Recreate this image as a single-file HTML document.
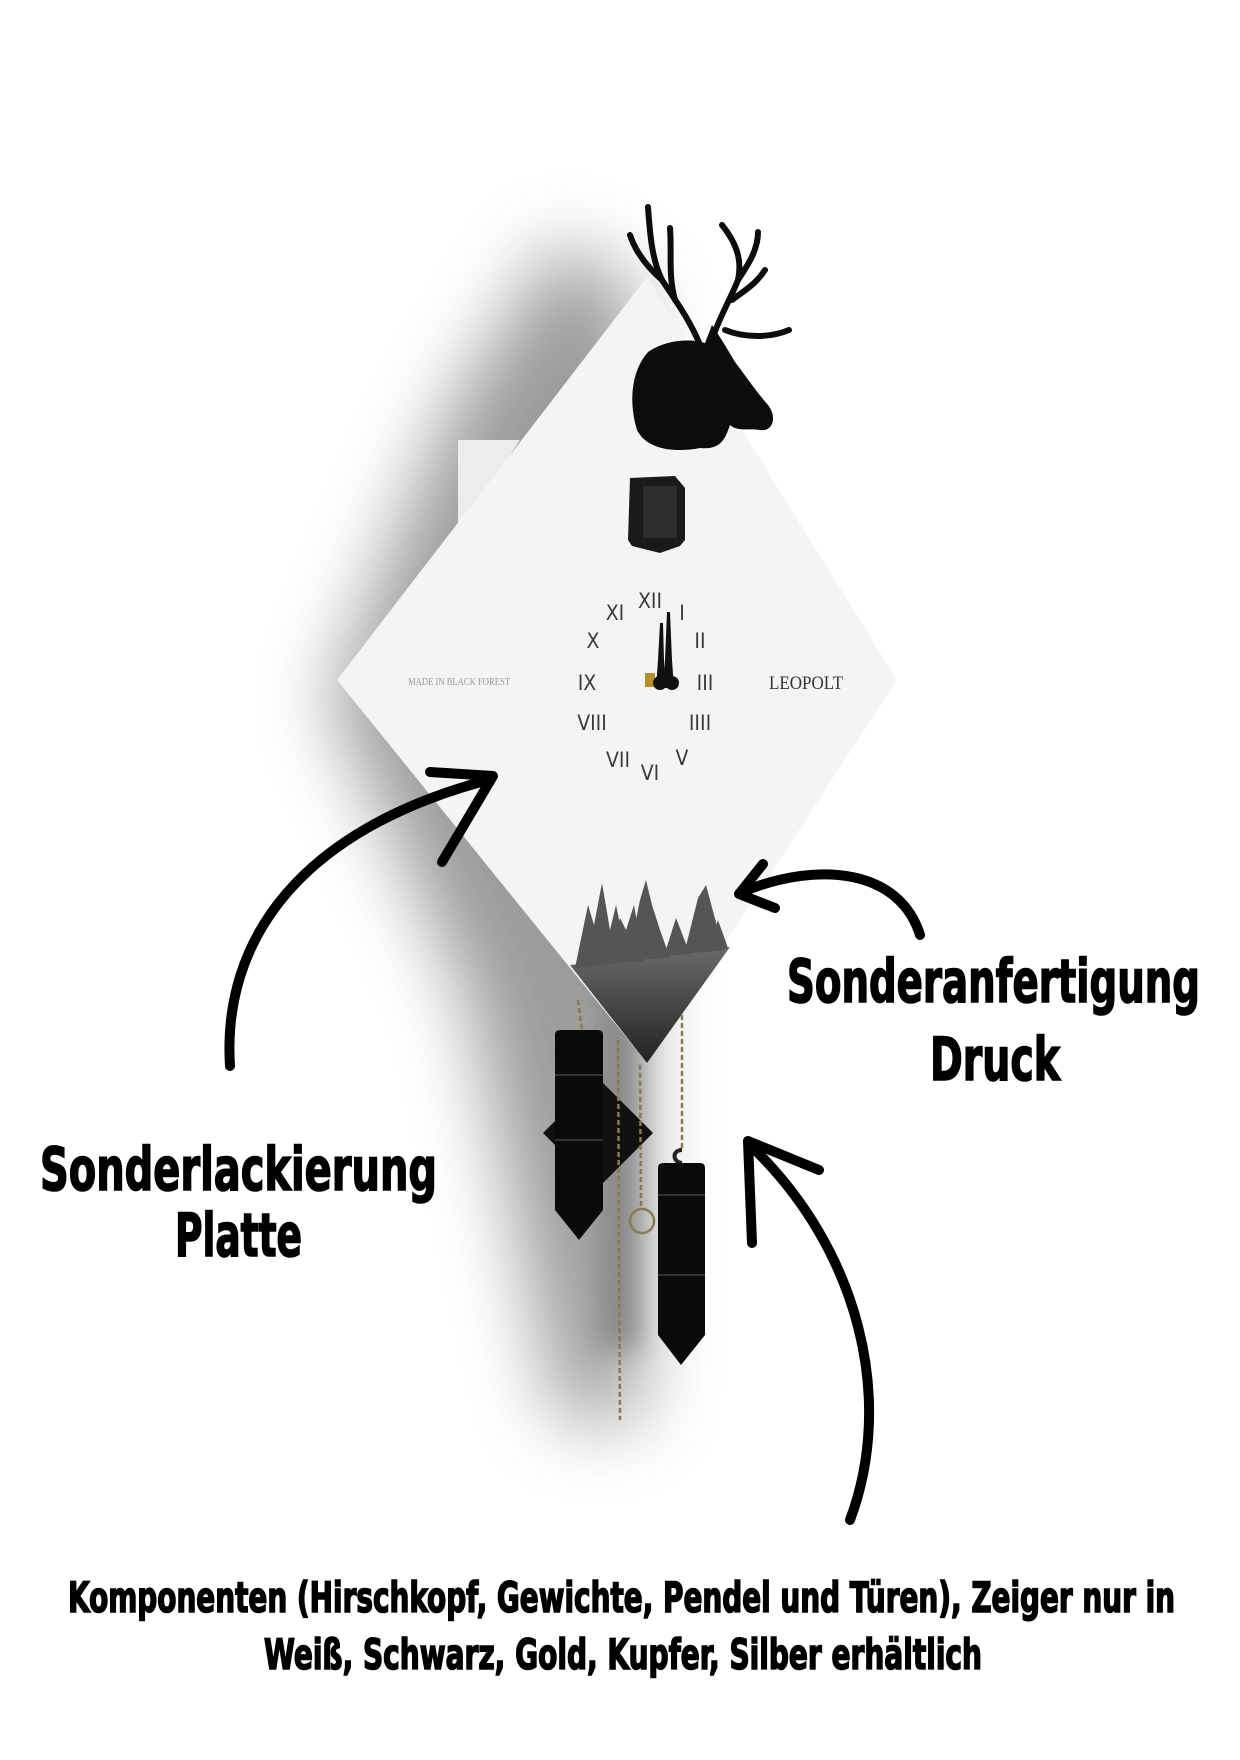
<!DOCTYPE html>
<html><head><meta charset="utf-8"><style>
html,body{margin:0;padding:0;background:#fff;}
svg{display:block;}
.t{font-family:"DejaVu Sans Condensed","DejaVu Sans","Liberation Sans",sans-serif;font-weight:bold;fill:#000;stroke:#000;stroke-width:1.6;}
.n{font-family:"DejaVu Sans Condensed","Liberation Sans",sans-serif;fill:#3a3a3a;font-size:21px;text-anchor:middle;}
</style></head><body>
<svg width="1240" height="1760" viewBox="0 0 1240 1760" xmlns="http://www.w3.org/2000/svg">
<defs>
<filter id="blur" x="-50%" y="-50%" width="200%" height="200%"><feGaussianBlur stdDeviation="38"/></filter>
<filter id="blur2" x="-50%" y="-50%" width="200%" height="200%"><feGaussianBlur stdDeviation="14"/></filter>
<linearGradient id="dk" x1="0" y1="0" x2="0" y2="1"><stop offset="0" stop-color="#6a6a6a"/><stop offset="1" stop-color="#222"/></linearGradient>
</defs>
<!-- shadow -->
<polygon points="560,240 450,410 330,700 470,1000 560,1420 640,1420 640,300" fill="#8a8a8a" filter="url(#blur)" opacity="0.85"/>
<polygon points="540,700 600,1000 600,1350 640,1350 640,900" fill="#666" filter="url(#blur2)" opacity="0.6"/>
<!-- back box -->
<polygon points="458,440 520,440 440,560 458,560" fill="#ececec"/>
<!-- diamond -->
<polygon points="647,277 897,680 647,1063 337,680" fill="#f4f4f2"/>
<!-- dark print -->
<polygon points="570,965 730,947 647,1063" fill="url(#dk)"/>
<g fill="#555">
<polygon points="575,968 588,905 594,925 602,883 610,930 616,905 628,962"/>
<polygon points="608,962 620,918 626,930 634,905 644,962"/>
<polygon points="628,960 640,900 646,880 652,905 660,930 670,958"/>
<polygon points="664,956 676,918 690,954"/>
<polygon points="684,954 698,898 706,885 714,915 724,950"/>
<polygon points="708,952 718,920 728,948"/>
</g>
<!-- clock numerals -->
<text class="n" x="650" y="608">XII</text>
<text class="n" x="682" y="620">I</text>
<text class="n" x="700" y="648">II</text>
<text class="n" x="705" y="690">III</text>
<text class="n" x="700" y="730">IIII</text>
<text class="n" x="682" y="765">V</text>
<text class="n" x="650" y="780">VI</text>
<text class="n" x="618" y="767">VII</text>
<text class="n" x="592" y="730">VIII</text>
<text class="n" x="587" y="690">IX</text>
<text class="n" x="593" y="648">X</text>
<text class="n" x="615" y="620">XI</text>
<!-- hands -->
<rect x="645" y="673" width="10" height="14" fill="#b8902a"/>
<path d="M667,612 L670,612 L672,660 L674,688 L664,688 L665,660Z M660,623 L663,623 L664,660 L666,688 L656,688 L658,660Z" fill="#111"/>
<circle cx="660" cy="683" r="7" fill="#111"/><circle cx="672" cy="683" r="7" fill="#111"/>
<text x="459" y="685" font-family="Liberation Serif,serif" font-size="10" fill="#999" text-anchor="middle" textLength="102" lengthAdjust="spacingAndGlyphs">MADE IN BLACK FOREST</text>
<text x="806" y="689" font-family="Liberation Serif,serif" font-size="19" fill="#333" text-anchor="middle" textLength="74" lengthAdjust="spacingAndGlyphs">LEOPOLT</text>
<!-- door -->
<path d="M630,478 L675,476 L685,488 L685,540 L680,546 L660,553 L632,546 L628,540Z" fill="#1a1a1a"/>
<rect x="643" y="486" width="34" height="52" fill="#2e2e2e"/>
<!-- deer -->
<g fill="#0c0c0c">
<path d="M648,352 C665,340 690,338 705,343 L712,325 C722,340 728,350 735,362 C745,375 755,390 768,405 C778,418 772,432 760,430 C748,428 738,432 730,425 C725,440 720,450 700,448 C680,452 648,452 637,430 C628,400 632,370 648,352Z"/>
</g>
<g stroke="#0c0c0c" stroke-width="6" fill="none" stroke-linecap="round">
<path d="M700,345 C690,320 675,300 662,280 C652,260 650,235 648,207"/>
<path d="M662,280 C645,265 635,250 630,235"/>
<path d="M675,300 C668,275 672,255 670,228"/>
<path d="M712,340 C718,320 730,300 738,280 C742,262 738,245 722,225"/>
<path d="M738,280 C748,265 758,250 758,232"/>
<path d="M725,330 C745,338 770,338 789,330"/>
<path d="M732,300 C745,290 755,285 765,270"/>
</g>
<!-- pendulum -->
<polygon points="598,1078 653,1133 598,1188 543,1133" fill="#111"/>
<rect x="590" y="1040" width="12" height="130" fill="#222"/>
<!-- chains -->
<g stroke="#8a7a50" stroke-width="2.5" fill="none" stroke-dasharray="5,3">
<line x1="618" y1="1040" x2="620" y2="1420"/>
<line x1="640" y1="1065" x2="641" y2="1208"/>
<line x1="682" y1="1015" x2="682" y2="1150"/>
<line x1="578" y1="1000" x2="582" y2="1030"/>
</g>
<circle cx="642" cy="1221" r="12" stroke="#8a7a50" stroke-width="2.5" fill="none"/>
<path d="M682,1150 C672,1150 672,1162 682,1163" stroke="#222" stroke-width="4" fill="none"/>
<!-- weights -->
<path d="M555,1035 Q555,1030 560,1030 L598,1030 Q603,1030 603,1035 L603,1210 L579,1240 L555,1210Z" fill="#0a0a0a"/>
<path d="M658,1168 Q658,1163 663,1163 L700,1163 Q705,1163 705,1168 L705,1335 L681,1365 L658,1335Z" fill="#0a0a0a"/>
<g stroke="#333" stroke-width="2"><line x1="555" y1="1075" x2="603" y2="1075"/><line x1="555" y1="1140" x2="603" y2="1140"/><line x1="658" y1="1195" x2="705" y2="1195"/><line x1="658" y1="1275" x2="705" y2="1275"/></g>
<!-- arrows -->
<g stroke="#000" stroke-width="10" fill="none" stroke-linecap="round" stroke-linejoin="round">
<path d="M230,1066 C222,940 300,830 488,780"/>
<path d="M430,772 L493,776 L442,862"/>
<path d="M920,935 C900,870 820,860 742,892"/>
<path d="M763,864 L739,894 L775,908"/>
<path d="M850,1520 C895,1400 860,1250 750,1145"/>
<path d="M819,1170 L748,1141 L752,1243"/>
</g>
<!-- labels -->
<text class="t" x="40" y="1190" font-size="60" textLength="397" lengthAdjust="spacingAndGlyphs">Sonderlackierung</text>
<text class="t" x="175" y="1256" font-size="60" textLength="127" lengthAdjust="spacingAndGlyphs">Platte</text>
<text class="t" x="787" y="1002" font-size="60" textLength="413" lengthAdjust="spacingAndGlyphs">Sonderanfertigung</text>
<text class="t" x="930" y="1080" font-size="60" textLength="130" lengthAdjust="spacingAndGlyphs">Druck</text>
<text class="t" x="68" y="1612" font-size="42" textLength="1107" lengthAdjust="spacingAndGlyphs">Komponenten (Hirschkopf, Gewichte, Pendel und Türen), Zeiger nur in</text>
<text class="t" x="264" y="1669" font-size="42" textLength="718" lengthAdjust="spacingAndGlyphs">Weiß, Schwarz, Gold, Kupfer, Silber erhältlich</text>
</svg>
</body></html>
